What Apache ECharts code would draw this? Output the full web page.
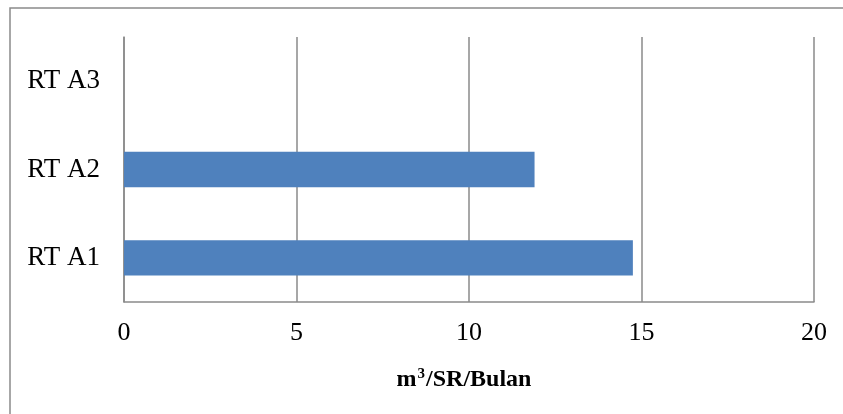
<!DOCTYPE html>
<html>
<head>
<meta charset="utf-8">
<script src="https://cdn.jsdelivr.net/npm/echarts@6/dist/echarts.min.js"></script>
<style>
  html, body { margin: 0; padding: 0; background: #fff; }
  #chart { width: 843px; height: 414px; }
</style>
</head>
<body>
<div id="chart"></div>
<script>
// Monthly water use per household connection, by RT
const categories = ['RT A1', 'RT A2', 'RT A3'];
const usage = [14.75, 11.9, 0];
const xTicks = [0, 5, 10, 15, 20];

const chart = echarts.init(document.getElementById('chart'), null, { renderer: 'canvas' });
const serif = '"Liberation Serif", "Times New Roman", serif';
const gridGray = '#8a8a8a';

chart.setOption({
  animation: false,
  backgroundColor: '#ffffff',
  graphic: [{
    type: 'rect',
    shape: { x: 10, y: 8, width: 860, height: 430 },
    style: { fill: 'none', stroke: '#8a8a8a', lineWidth: 1.5 },
    silent: true
  }],
  grid: { left: 124, right: 29, top: 37, bottom: 112, containLabel: false },
  xAxis: {
    type: 'value',
    min: xTicks[0],
    max: xTicks[xTicks.length - 1],
    interval: xTicks[1] - xTicks[0],
    axisLine: { show: true, lineStyle: { color: gridGray, width: 1.5 } },
    axisTick: { show: false },
    splitLine: { show: true, lineStyle: { color: gridGray, width: 1.5 } },
    axisLabel: { color: '#000', fontFamily: serif, fontSize: 26, margin: 18 },
    name: '{b|m}{s|3}{b|/SR/Bulan}',
    nameLocation: 'middle',
    nameGap: 65,
    nameTextStyle: {
      padding: [0, 10, 0, 0],
      rich: {
        b: { fontFamily: serif, fontWeight: 'bold', fontSize: 24, color: '#000', lineHeight: 26 },
        s: { fontFamily: serif, fontWeight: 'bold', fontSize: 15, color: '#000', verticalAlign: 'top', lineHeight: 26, padding: [0, 1, 0, 1] }
      }
    }
  },
  yAxis: {
    type: 'category',
    data: categories,
    axisLine: { show: true, lineStyle: { color: gridGray, width: 1.5 } },
    axisTick: { show: false },
    splitLine: { show: false },
    axisLabel: { color: '#000', fontFamily: serif, fontSize: 27, margin: 24 }
  },
  series: [{
    type: 'bar',
    data: usage,
    barCategoryGap: '60%',
    itemStyle: { color: '#4F81BD' },
    emphasis: { disabled: true }
  }]
});
</script>
</body>
</html>
